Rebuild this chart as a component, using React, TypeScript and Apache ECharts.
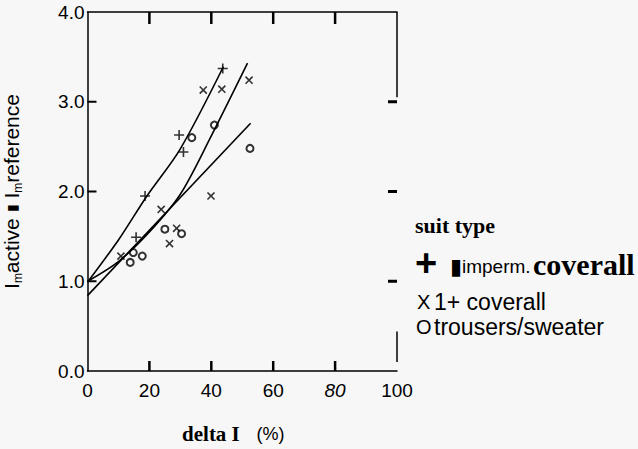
import React, { useEffect, useRef } from "react";
import * as echarts from "echarts";

// ---- data ----
const xTickLabels = [0, 20, 40, 60, 80, 100];
const yTickLabels = [0, 1, 2, 3, 4];
const innerTicksX = [20, 40, 60, 80];
const innerTicksY = [1, 2, 3];

const impermPoints = [[15.7, 1.49], [18.6, 1.95], [29.6, 2.63], [31.0, 2.44], [43.7, 3.37]];
const coverallPoints = [[10.8, 1.28], [23.8, 1.8], [26.5, 1.42], [28.8, 1.59], [37.4, 3.13], [39.9, 1.95], [43.4, 3.14], [52.2, 3.24]];
const trouserPoints = [[13.8, 1.21], [14.8, 1.32], [17.7, 1.28], [25.0, 1.58], [30.4, 1.53], [33.7, 2.6], [41.0, 2.74], [52.5, 2.48]];

const impermFit = [[0, 0.99], [10, 1.46], [19.2, 1.95], [29.9, 2.47], [43.9, 3.39]];
const coverallFit = [[0, 1.0], [10, 1.22], [20, 1.55], [30, 1.97], [40, 2.62], [51.7, 3.43]];
const trouserFit = [[0, 0.84], [52.7, 2.76]];

const frameSegments = [
  [[100, 4], [100, 3.05]],
  [[100, 0.44], [100, 0.1]],
];

const PLUS = "path://M4.2,0H5.8V4.2H10V5.8H5.8V10H4.2V5.8H0V4.2H4.2Z";
const SANS = "'Liberation Sans', Arial, sans-serif";
const SERIF = "'Liberation Serif', 'Times New Roman', serif";
const X_MIN = 0, X_MAX = 100, Y_MIN = 0, Y_MAX = 4;

export default function App() {
  const ref = useRef<HTMLDivElement>(null);
  useEffect(() => {
    if (!ref.current) return;
    const chart = echarts.init(ref.current, null, { renderer: "svg" });
    const black = "#000";
    const fitLine = (name: string, data: number[][], smooth: number | boolean) => ({
      name,
      type: "line",
      data,
      smooth,
      symbol: "none",
      showSymbol: false,
      lineStyle: { color: black, width: 1.6 },
      silent: true,
    });
    const tickRect = (x: number, y: number, width: number, height: number) => ({
      type: "rect",
      shape: { x, y, width, height },
      style: { fill: black, stroke: "none" },
    });
    chart.setOption({
      animation: false,
      backgroundColor: "#f7f7f7",
      grid: { left: 87, right: 241, top: 12, bottom: 77 },
      xAxis: [
        {
          type: "value",
          position: "bottom",
          min: X_MIN,
          max: X_MAX,
          interval: 20,
          splitLine: { show: false },
          axisLine: { show: true, onZero: false, lineStyle: { color: black, width: 1.5 } },
          axisTick: { show: false },
          axisLabel: {
            customValues: xTickLabels,
            color: black,
            fontSize: 19,
            fontFamily: SANS,
            margin: 10,
            formatter: (v: number) => (v === 80 ? "{i|80}" : String(v)),
            rich: { i: { fontStyle: "italic", fontSize: 19, fontFamily: SANS, color: black } },
          },
          name: "{d|delta I}     {p|(%)}",
          nameLocation: "middle",
          nameGap: 52,
          nameTextStyle: {
            padding: [0, 18, 0, 0],
            rich: {
              d: { fontFamily: SERIF, fontWeight: "bold", fontSize: 21, color: black },
              p: { fontFamily: SANS, fontSize: 18, color: black },
            },
          },
        },
        {
          type: "value",
          position: "top",
          min: X_MIN,
          max: X_MAX,
          interval: 20,
          splitLine: { show: false },
          axisLine: { show: true, onZero: false, lineStyle: { color: black, width: 1.5 } },
          axisTick: { show: false },
          axisLabel: { show: false },
        },
      ],
      yAxis: [
        {
          type: "value",
          position: "left",
          min: Y_MIN,
          max: Y_MAX,
          interval: 1,
          splitLine: { show: false },
          axisLine: { show: true, onZero: false, lineStyle: { color: black, width: 1.5 } },
          axisTick: { show: false },
          axisLabel: {
            customValues: yTickLabels,
            color: black,
            fontSize: 19,
            fontFamily: SANS,
            margin: 3,
            formatter: (v: number) => v.toFixed(1),
          },
          name: "{n|I}{s|m}{n|active }{b|▮}{n| I}{s|m}{n|reference}",
          nameLocation: "middle",
          nameRotate: 90,
          nameGap: 64,
          nameTextStyle: {
            rich: {
              n: { fontFamily: SANS, fontSize: 21, color: black, lineHeight: 24 },
              s: { fontFamily: SANS, fontSize: 12, color: black, verticalAlign: "bottom", lineHeight: 24 },
              b: { fontFamily: SANS, fontSize: 14, color: black, lineHeight: 24 },
            },
          },
        },
      ],
      series: [
        fitLine("imperm fit", impermFit, 0.3),
        fitLine("coverall fit", coverallFit, 0.3),
        {
          ...fitLine("trousers fit", trouserFit, false),
          markLine: {
            silent: true,
            symbol: "none",
            label: { show: false },
            lineStyle: { color: black, width: 1.5, type: "solid" },
            data: frameSegments.map((s) => [{ coord: s[0] }, { coord: s[1] }]),
          },
        },
        {
          name: "imperm. coverall",
          type: "scatter",
          data: impermPoints,
          symbol: PLUS,
          symbolSize: 10,
          itemStyle: { color: black },
        },
        {
          name: "1+ coverall",
          type: "scatter",
          data: coverallPoints,
          symbol: PLUS,
          symbolSize: 10,
          symbolRotate: 45,
          itemStyle: { color: black },
        },
        {
          name: "trousers/sweater",
          type: "scatter",
          data: trouserPoints,
          symbol: "emptyCircle",
          symbolSize: 7,
          itemStyle: { color: black, borderColor: black, borderWidth: 1.5 },
        },
        {
          name: "frame ticks",
          type: "custom",
          silent: true,
          clip: false,
          z: 10,
          data: innerTicksY.map((v, i) => [X_MIN, v, i]),
          encode: { x: 0, y: 1 },
          renderItem: (_p: any, api: any) => {
            const v = api.value(1);
            const idx = api.value(2);
            const l = api.coord([X_MIN, v]);
            const r = api.coord([X_MAX, v]);
            const children: any[] = [
              tickRect(l[0], l[1] - 1, 9, 2),
              tickRect(r[0] - 9, r[1] - 1.5, 9, 3),
            ];
            if (idx === 0) {
              innerTicksX.forEach((xv) => {
                const b = api.coord([xv, Y_MIN]);
                const t = api.coord([xv, Y_MAX]);
                children.push(tickRect(b[0] - 1.25, b[1] - 10, 2.5, 10));
                children.push(tickRect(t[0] - 1.25, t[1], 2.5, 12));
              });
            }
            return { type: "group", children };
          },
        },
      ],
      graphic: [
        { type: "text", x: 415, y: 225, style: { text: "suit type", font: `bold 22px ${SERIF}`, fill: black, verticalAlign: "middle" } },
        { type: "text", x: 415, y: 263, style: { text: "+", font: `bold 38px ${SANS}`, fill: black, verticalAlign: "middle" } },
        { type: "text", x: 450, y: 266, style: { text: "▮", font: `22px ${SANS}`, fill: black, verticalAlign: "middle" } },
        { type: "text", x: 462, y: 266, style: { text: "imperm.", font: `19px ${SANS}`, fill: black, verticalAlign: "middle" } },
        { type: "text", x: 533, y: 264, style: { text: "coverall", font: `bold 30px ${SERIF}`, fill: black, verticalAlign: "middle" } },
        { type: "text", x: 417, y: 302, style: { text: "X", font: `20px ${SANS}`, fill: black, verticalAlign: "middle" } },
        { type: "text", x: 434, y: 302, style: { text: "1+ coverall", font: `23px ${SANS}`, fill: black, verticalAlign: "middle" } },
        { type: "text", x: 416, y: 327, style: { text: "O", font: `20px ${SANS}`, fill: black, verticalAlign: "middle" } },
        { type: "text", x: 434, y: 327, style: { text: "trousers/sweater", font: `23px ${SANS}`, fill: black, verticalAlign: "middle" } },
      ],
    });
    return () => chart.dispose();
  }, []);
  return <div ref={ref} style={{ position: "fixed", left: 0, top: 0, width: 638, height: 449 }} />;
}
